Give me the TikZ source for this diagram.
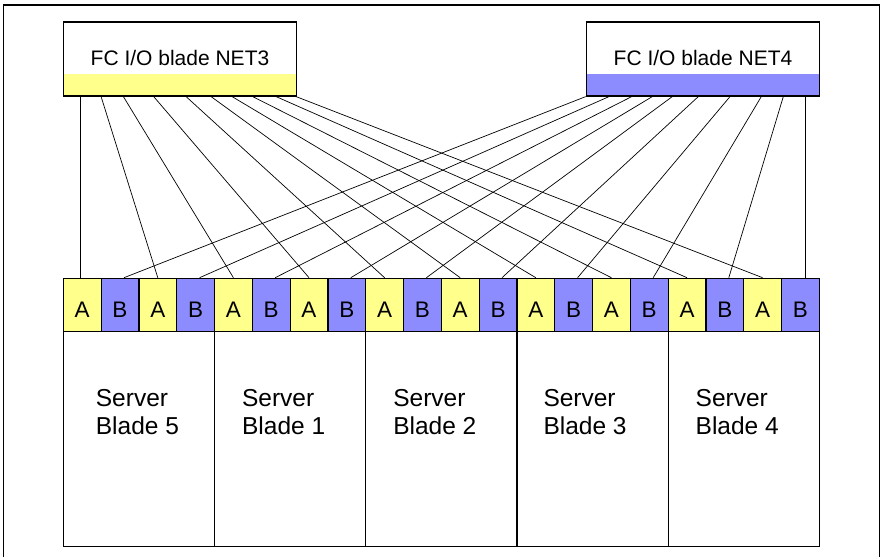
\documentclass[tikz,border=0pt]{standalone}
\usepackage{fontspec}
\setmainfont{Liberation Sans}
\usetikzlibrary{positioning, calc}
\definecolor{fcyellow}{HTML}{FFFF8C}
\definecolor{fcblue}{HTML}{8C8CFF}

\tikzset{
  iobox/.style={draw, line width=1.2pt, fill=white, minimum width=233.4pt,
    minimum height=74pt, inner sep=0pt, font=\fontsize{21}{25}\selectfont,
    text height=12pt, text depth=0pt,
    path picture={\fill[#1] (path picture bounding box.south west)
      rectangle ([yshift=22pt]path picture bounding box.south east);}},
  portbox/.style={draw, line width=1.2pt, fill=#1, minimum width=37.8pt,
    minimum height=53.4pt, inner sep=0pt, font=\fontsize{22.5}{26}\selectfont,
    text height=24pt, text depth=0pt},
  bladebox/.style={draw, line width=1.2pt, minimum width=151.2pt,
    minimum height=215pt, inner sep=0pt},
  servertext/.style={align=left, inner sep=0pt, anchor=west,
    font=\fontsize{24.5}{28.5}\selectfont},
  link/.style={line width=0.7pt}
}

\begin{document}
\begin{tikzpicture}[x=1pt, y=-1pt]
\useasboundingbox (0,0) rectangle (881,557);

% Outer frame
\draw[line width=1.2pt] (3.3,557) -- (3.3,5) -- (879.3,5) -- (879.3,557);

% FC I/O blades
\node[iobox=fcyellow] (net3) at (180,59) {FC I/O blade NET3};
\node[iobox=fcblue] (net4) at (703,59) {FC I/O blade NET4};

% Ports A/B
\foreach \i in {1,...,20}{
  \ifodd\i \def\pcol{fcyellow}\def\plab{A}\else \def\pcol{fcblue}\def\plab{B}\fi
  \node[portbox=\pcol] (p\i) at ({63.3+37.8*(\i-0.5)},305) {\plab};
}

% Server blades
\foreach \n/\pos/\dx in {5/1/33, 1/2/28, 2/3/28, 3/4/27, 4/5/28}{
  \node[bladebox] (blade\n) at ({63.3+151.2*(\pos-0.5)},439.2) {};
  \node[servertext] (srv\n) at ([xshift=\dx pt, yshift=27pt]blade\n.west)
    {Server\\Blade \n};
}

% NET3 -> A ports
\draw[link] ($(net3.south west)+(17.4,0)$) coordinate (n3a) -- (n3a |- p1.north);
\foreach \dx/\p in {38.4/3, 60.7/5, 91/7, 123.4/9, 148.4/11, 169.4/13,
                    190/15, 213.4/17, 233.4/19}
  \draw[link] ($(net3.south west)+(\dx,0)$) -- (p\p.north);

% NET4 -> B ports
\foreach \dx/\p in {0/2, 23.3/4, 46/6, 66.6/8, 86.6/10, 112.6/12,
                    144.3/14, 175.6/16, 197.6/18}
  \draw[link] ($(net4.south west)+(\dx,0)$) -- ([xshift=4pt]p\p.north);
\draw[link] ($(net4.south west)+(220,0)$) coordinate (n4b) -- (n4b |- p20.north);

\end{tikzpicture}
\end{document}
